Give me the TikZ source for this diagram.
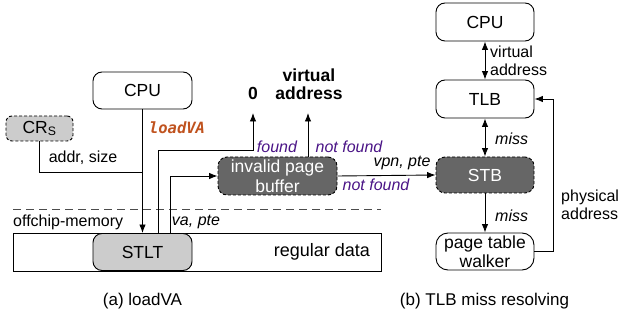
\documentclass[tikz,border=0pt]{standalone}
\usepackage{fontspec}
\setmainfont{Liberation Sans}
\newfontfamily\codefont{DejaVu Sans Mono}
\usetikzlibrary{arrows.meta}
\definecolor{lgray}{HTML}{CCCCCC}
\definecolor{dgray}{HTML}{666666}
\definecolor{lblpurple}{HTML}{4A1486}
\definecolor{vaorange}{HTML}{C0531F}
\begin{document}
\begin{tikzpicture}[x=1pt,y=-1pt,
  box/.style={draw, rounded corners=9pt, line width=0.9pt, minimum width=99pt, minimum height=37pt,
    inner sep=0pt, align=center, font=\fontsize{17.5}{19.5}\selectfont},
  dbox/.style={box, dash pattern=on 3pt off 2pt, fill=dgray, text=white},
  lbox/.style={box, fill=lgray},
  lbl/.style={inner sep=0pt, align=left, font=\fontsize{16}{18}\selectfont},
  ilbl/.style={lbl, font=\fontsize{16}{18}\selectfont\itshape},
  plbl/.style={ilbl, text=lblpurple},
  blbl/.style={inner sep=0pt, align=center, font=\fontsize{17.5}{18}\selectfont\bfseries},
  captxt/.style={inner sep=0pt, font=\fontsize{17}{19}\selectfont},
  ln/.style={draw, line width=0.9pt},
  arr/.style={ln, -{Latex[length=8.5pt,width=6.5pt]}},
  darr/.style={ln, {Latex[length=8.5pt,width=6.5pt]}-{Latex[length=8.5pt,width=6.5pt]}}
]
\useasboundingbox (0,0) rectangle (618,320);

% ---------- (a) loadVA ----------
\node[draw, line width=0.9pt, minimum width=368pt, minimum height=38pt, inner sep=0pt] (mem) at (197,252) {};
\node[lbox] (stlt) at (142.5,252) {STLT};
\node[inner sep=0pt, font=\fontsize{18}{20}\selectfont] (reg) at (322,252) {regular data};
\node[box] (cpuA) at (142.5,90.5) {CPU};
\node[lbox, dash pattern=on 3pt off 2pt, minimum width=67pt, minimum height=25pt, rounded corners=6pt] (crs) at (39.5,128.5) {CR\textsubscript{S}};
\node[dbox, minimum width=119pt, minimum height=38pt] (ipb) at (277.5,176) {invalid page\\buffer};

\node[blbl] (zero) at (253,93) {0};
\node[blbl] (vaddr) at (309,84) {virtual\\address};

\draw[ln, dash pattern=on 8pt off 5pt, draw=black!70] (13,209) coordinate (dl) -- (381,209) coordinate (dr);
\node[lbl, anchor=west] (off) at (13,222) {offchip-memory};

% connectors
\coordinate (j) at (142.5,172);
\draw[ln] (crs.south) |- (j);
\node[lbl] (as) at (83,158) {addr, size};
\draw[arr] (cpuA) -- (stlt);
\node[inner sep=0pt, text=vaorange, font=\codefont\bfseries\itshape\fontsize{15.5}{18}\selectfont] (lva) at (177,128) {loadVA};

\coordinate (f0) at (158,233);
\coordinate (f1) at (158,150);
\coordinate (f2) at (253,150);
\coordinate (f3) at (253,113);
\draw[arr] (f0) -- (f1) -- (f2) -- (f3);
\node[plbl] (fnd) at (277,147) {found};

\coordinate (g0) at (170,233);
\draw[arr] (g0) |- (ipb.west);
\node[ilbl] (vapte) at (196,222) {va, pte};

\coordinate (n0) at (308,157);
\coordinate (n1) at (308,113);
\draw[arr] (n0) -- (n1);
\node[plbl] (nf1) at (349,147) {not found};

% ---------- (b) TLB miss resolving ----------
\node[box, minimum width=98pt, minimum height=38pt] (cpuB) at (485,22) {CPU};
\node[box, minimum width=98pt, minimum height=38pt] (tlb) at (485,99) {TLB};
\node[dbox, minimum width=98pt, minimum height=36pt] (stb) at (485,175) {STB};
\node[box, minimum width=98pt, minimum height=37pt, rounded corners=12pt] (ptw) at (485,251.5) {page table\\walker};

\draw[arr] (ipb.east) -- (stb.west);
\node[ilbl] (vp) at (402,163) {vpn, pte};
\node[plbl] (nf2) at (376,185) {not found};

\draw[darr] (cpuB) -- (tlb);
\node[lbl, anchor=west] (va2) at (490,61) {virtual\\address};
\draw[darr] (tlb) -- (stb);
\node[ilbl, anchor=west] (m1) at (495,139) {miss};
\draw[arr] (stb) -- (ptw);
\node[ilbl, anchor=west] (m2) at (495,216) {miss};

\coordinate (p1) at (553,251.5);
\coordinate (p2) at (553,99);
\draw[arr] (ptw.east) -- (p1) -- (p2) -- (tlb.east);
\node[lbl, anchor=west] (pa) at (561,205) {physical\\address};

% captions
\node[captxt] (capa) at (142.5,301) {(a) loadVA};
\node[captxt] (capb) at (484.5,301) {(b) TLB miss resolving};
\end{tikzpicture}
\end{document}
